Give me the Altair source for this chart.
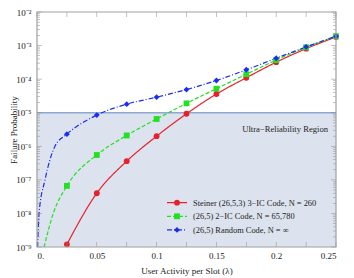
import altair as alt
import pandas as pd

# ---- data ----
lam = [0.025, 0.05, 0.075, 0.1, 0.125, 0.15, 0.175, 0.2, 0.225, 0.25]
steiner = [1.2e-9, 4.0e-8, 3.6e-7, 2.0e-6, 9.3e-6, 3.6e-5, 1.1e-4, 3.2e-4, 8.1e-4, 1.8e-3]
ic2 = [6.6e-8, 5.5e-7, 2.1e-6, 6.5e-6, 1.9e-5, 5.2e-5, 1.4e-4, 3.7e-4, 8.9e-4, 1.9e-3]
rnd = [2.3e-6, 8.5e-6, 1.8e-5, 2.9e-5, 4.9e-5, 9.1e-5, 1.9e-4, 4.2e-4, 9.1e-4, 1.9e-3]
# curve continuation (no markers there)
ic2_lam_extra = [0.0059, 0.0136]
ic2_extra = [1e-9, 1e-8]
rnd_lam_extra = [0.0005, 0.0017, 0.0067, 0.015]
rnd_extra = [1e-9, 1e-8, 1e-7, 1e-6]

names = [
    "Steiner (26,5,3) 3\u2212IC Code, N = 260",
    "(26,5) 2\u2212IC Code, N = 65,780",
    "(26,5) Random Code, N = \u221e",
]
colors = ["#e8202a", "#22e022", "#1a2cf0"]
shapes = ["circle", "square", "diamond"]
dashes = [[1, 0], [4, 2], [5, 2, 1, 2]]

x_ticks = [0, 0.025, 0.05, 0.075, 0.1, 0.125, 0.15, 0.175, 0.2, 0.225, 0.25]
y_major = [1e-9, 1e-8, 1e-7, 1e-6, 1e-5, 1e-4, 1e-3, 1e-2]
y_minor = [m * 10.0 ** k for k in range(-9, -2) for m in range(2, 10)]
threshold = 1e-5
region_label = "Ultra\u2212Reliability Region"

W, H = 299, 235
TOP = 12  # absolute y of plot top (page margin 8 + padding 4)
FONT = "Liberation Serif"
FRAME = "#a0a0a0"

# ---- tables ----
pts = pd.DataFrame(
    [(x, y, names[0]) for x, y in zip(lam, steiner)]
    + [(x, y, names[1]) for x, y in zip(lam, ic2)]
    + [(x, y, names[2]) for x, y in zip(lam, rnd)],
    columns=["x", "y", "s"],
)
lines = pd.DataFrame(
    [(x, y, names[0]) for x, y in zip(lam, steiner)]
    + [(x, y, names[1]) for x, y in zip(ic2_lam_extra + lam, ic2_extra + ic2)]
    + [(x, y, names[2]) for x, y in zip(rnd_lam_extra + lam, rnd_extra + rnd)],
    columns=["x", "y", "s"],
)

xs = alt.Scale(domain=[0, 0.25], nice=False, zero=False)
ys = alt.Scale(type="log", domain=[1e-9, 1e-2], nice=False)
cs = alt.Scale(domain=names, range=colors)
shs = alt.Scale(domain=names, range=shapes)
ds = alt.Scale(domain=names, range=dashes)

ylab = ("'10' + ['\u207b\u2079','\u207b\u2078','\u207b\u2077','\u207b\u2076',"
        "'\u207b\u2075','\u207b\u2074','\u207b\u00b3','\u207b\u00b2']"
        "[round(log(datum.value)/LN10)+9]")

X = alt.X("x:Q", scale=xs, axis=alt.Axis(
    values=x_ticks, ticks=False, domain=False, grid=False, labelPadding=4,
    labelExpr="datum.value == 0 ? '0.' : format(datum.value, '~g')",
    title="User Activity per Slot (\u03bb)", titlePadding=6))
Y = alt.Y("y:Q", scale=ys, axis=alt.Axis(
    values=y_major, ticks=False, domain=False, grid=False, labelPadding=6,
    labelExpr=ylab, title="Failure Probability",
    titleX=-24, titleY=H / 2, titleBaseline="middle", titleAngle=270))

region = alt.Chart(pd.DataFrame({"x": [0], "x2": [0.25], "y": [1e-9], "y2": [threshold]})).mark_rect(
    color="#dde3ee").encode(x=X, x2="x2:Q", y=Y, y2="y2:Q")
thr = alt.Chart(pd.DataFrame({"y": [threshold]})).mark_rule(color="#8ea8cf", strokeWidth=1.5).encode(
    y=alt.Y("y:Q", scale=ys))
region_text = alt.Chart(pd.DataFrame({"t": [region_label]})).mark_text(
    align="right", baseline="middle", font=FONT, fontSize=8.6, color="#222").encode(
    x=alt.value(291), y=alt.value(128.5 - TOP), text="t:N")

line_layer = alt.Chart(lines).mark_line(interpolate="monotone", strokeWidth=1.2, clip=True).encode(
    x=alt.X("x:Q", scale=xs), y=alt.Y("y:Q", scale=ys),
    color=alt.Color("s:N", scale=cs, legend=None),
    strokeDash=alt.StrokeDash("s:N", scale=ds, legend=None),
    detail="s:N")
point_layer = alt.Chart(pts).mark_point(filled=True, size=34, opacity=1).encode(
    x=alt.X("x:Q", scale=xs), y=alt.Y("y:Q", scale=ys),
    color=alt.Color("s:N", scale=cs, legend=None),
    shape=alt.Shape("s:N", scale=shs, legend=None))


# frame ticks (inward)
def yticks(vals, size, xpos):
    return alt.Chart(pd.DataFrame({"y": vals})).mark_tick(
        orient="horizontal", size=size, thickness=0.7, color="#888").encode(
        y=alt.Y("y:Q", scale=ys), x=alt.value(xpos))


def xticks(vals, size, ypos):
    return alt.Chart(pd.DataFrame({"x": vals})).mark_tick(
        orient="vertical", size=size, thickness=0.7, color="#888").encode(
        x=alt.X("x:Q", scale=xs), y=alt.value(ypos))


tick_layers = [
    yticks(y_major, 5, 2.5), yticks(y_minor, 3, 1.5),
    yticks(y_major, 5, W - 2.5), yticks(y_minor, 3, W - 1.5),
    xticks(x_ticks, 5, H - 2.5), xticks(x_ticks, 5, 2.5),
]

frame = alt.Chart(pd.DataFrame({"a": [0]})).mark_rect(
    filled=False, stroke=FRAME, strokeWidth=1.2).encode(
    x=alt.value(0), x2=alt.value(W), y=alt.value(0), y2=alt.value(H))

# legend inside the plot
leg_layers = []
for i, (n, c, sh, d) in enumerate(zip(names, colors, shapes, dashes)):
    yy = 202.7 - TOP + 13.6 * i
    row = pd.DataFrame({"t": [n]})
    leg_layers.append(alt.Chart(row).mark_rule(color=c, strokeWidth=1.2, strokeDash=d).encode(
        x=alt.value(130), x2=alt.value(150), y=alt.value(yy)))
    leg_layers.append(alt.Chart(row).mark_point(filled=True, size=34, opacity=1, color=c, shape=sh).encode(
        x=alt.value(140), y=alt.value(yy)))
    leg_layers.append(alt.Chart(row).mark_text(align="left", baseline="middle", font=FONT,
                                                fontSize=8.4, color="#222").encode(
        x=alt.value(156), y=alt.value(yy), text="t:N"))

chart = alt.layer(region, thr, region_text, line_layer, point_layer, *tick_layers, frame, *leg_layers).properties(
    width=W, height=H,
    autosize=alt.AutoSizeParams(type="none"),
    padding={"left": 29, "top": TOP - 8, "right": 10, "bottom": 31},
).configure_view(stroke=None).configure_axis(
    labelFont=FONT, titleFont=FONT, labelFontSize=9, titleFontSize=9,
    labelColor="#222", titleColor="#222", titleFontWeight="normal",
)

chart.save("out.html", embed_options={"renderer": "svg", "actions": False})
